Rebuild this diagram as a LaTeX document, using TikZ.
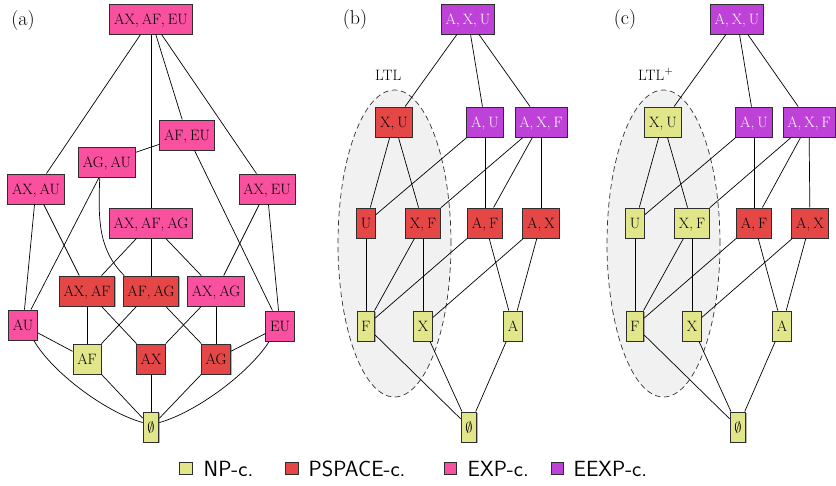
\documentclass[tikz,border=0pt]{standalone}
\usetikzlibrary{shadows}

\definecolor{npc}{HTML}{E1E68A}
\definecolor{psc}{HTML}{E54747}
\definecolor{expc}{HTML}{F9509F}
\definecolor{eexpc}{HTML}{BE42D8}
\definecolor{boxline}{HTML}{2E2E2E}
\definecolor{lassofill}{HTML}{F1F1F1}

\newcommand\nodefont{\fontsize{15}{18}\selectfont}
\newcommand\csep{,\kern3pt}

\tikzset{
  cbox/.style={draw=boxline, line width=0.9pt, minimum height=30pt,
    inner xsep=4.3pt, inner ysep=0pt, text height=10.3pt, text depth=0pt,
    font=\nodefont,
    drop shadow={shadow xshift=0.8pt, shadow yshift=-0.8pt, fill=black, opacity=0.3}},
  np/.style={cbox, fill=npc},
  ps/.style={cbox, fill=psc},
  ex/.style={cbox, fill=expc},
  ee/.style={cbox, fill=eexpc, text=white},
  edge/.style={line width=0.7pt, black},
  lasso/.style={draw=black!80, dashed, dash pattern=on 5.5pt off 3.5pt,
    line width=0.7pt, fill=lassofill},
  panel/.style={font=\fontsize{20}{24}\selectfont, inner sep=0pt},
  tag/.style={font=\fontsize{15}{18}\selectfont, inner sep=0pt, anchor=base west},
  keybox/.style={draw=boxline, line width=0.8pt, minimum size=12.5pt, inner sep=0pt},
  keytext/.style={font=\sffamily\fontsize{22}{26}\selectfont, inner sep=0pt, anchor=base west},
}

\begin{document}
\begin{tikzpicture}[x=1pt, y=-1pt]
\useasboundingbox (0,0) rectangle (836,485);

% ---------- shaded LTL regions ----------
\draw[lasso] (394.5,243.5) ellipse [x radius=56.5pt, y radius=153.5pt];
\draw[lasso] (663.5,243.5) ellipse [x radius=56.5pt, y radius=153.5pt];

% ---------- panel labels ----------
\node[panel] (lab-a) at (23,21) {(a)};
\node[panel] (lab-b) at (355,20) {(b)};
\node[panel] (lab-c) at (625,20) {(c)};
\node[tag] (ltl-b) at (375,80) {LTL};
\node[tag] (ltl-c) at (638,80) {LTL$^+$};

% ---------- lattice (a) ----------
\node[ex] (a-top)    at (151,19)  {AX\csep AF\csep EU};
\node[ex] (a-afeu)   at (187,135) {AF\csep EU};
\node[ex] (a-agau)   at (107,162) {AG\csep AU};
\node[ex] (a-axau)   at (36,189)  {AX\csep AU};
\node[ex] (a-axeu)   at (267,189) {AX\csep EU};
\node[ex] (a-axafag) at (151,223) {AX\csep AF\csep AG};
\node[ps] (a-axaf)   at (87,291)  {AX\csep AF};
\node[ps] (a-afag)   at (151,291) {AF\csep AG};
\node[ex] (a-axag)   at (216,291) {AX\csep AG};
\node[ex] (a-au)     at (23,325)  {AU};
\node[ex] (a-eu)     at (280,326) {EU};
\node[np] (a-af)     at (87,359)  {AF};
\node[ps] (a-ax)     at (151,359) {AX};
\node[ps] (a-ag)     at (216,359) {AG};
\node[np] (a-empty)  at (151,427) {$\emptyset$};

\foreach \u/\v in {top/axau, top/axafag, top/afeu, top/axeu,
                   afeu/agau, afeu/eu, agau/au,
                   axau/au, axau/axaf, axeu/axag, axeu/eu,
                   axafag/axaf, axafag/afag, axafag/axag,
                   axaf/af, axaf/ax, afag/af, afag/ag, axag/ax, axag/ag,
                   au/af, eu/ag, af/empty, ax/empty, ag/empty}
  \draw[edge] (a-\u) -- (a-\v);

\draw[edge] (a-agau.245) .. controls +(-2,45) and +(-25,-25) .. (a-afag.150);
\draw[edge] (a-au.-55) .. controls (52,372) and (105,412) .. (a-empty.152);
\draw[edge] (a-eu.235) .. controls (250,372) and (197,412) .. (a-empty.28);

% ---------- lattice (b) ----------
\node[ee] (b-top)   at (468,19)  {A\csep X\csep U};
\node[ps] (b-xu)    at (394,122) {X\csep U};
\node[ee] (b-au)    at (485,122) {A\csep U};
\node[ee] (b-axf)   at (541,122) {A\csep X\csep F};
\node[ps] (b-u)     at (366,223) {U};
\node[ps] (b-xf)    at (423,223) {X\csep F};
\node[ps] (b-af)    at (485,223) {A\csep F};
\node[ps] (b-ax)    at (541,223) {A\csep X};
\node[np] (b-f)     at (366,326) {F};
\node[np] (b-x)     at (423,326) {X};
\node[np] (b-a)     at (513,326) {A};
\node[np] (b-empty) at (469,427) {$\emptyset$};

% ---------- lattice (c) ----------
\begin{scope}[xshift=269pt]
\node[ee] (c-top)   at (468,19)  {A\csep X\csep U};
\node[np] (c-xu)    at (394,122) {X\csep U};
\node[ee] (c-au)    at (485,122) {A\csep U};
\node[ee] (c-axf)   at (540,122) {A\csep X\csep F};
\node[np] (c-u)     at (366,223) {U};
\node[np] (c-xf)    at (423,223) {X\csep F};
\node[ps] (c-af)    at (485,223) {A\csep F};
\node[ps] (c-ax)    at (541,223) {A\csep X};
\node[np] (c-f)     at (366,326) {F};
\node[np] (c-x)     at (423,326) {X};
\node[np] (c-a)     at (513,326) {A};
\node[np] (c-empty) at (469,427) {$\emptyset$};
\end{scope}

\foreach \p in {b,c}
  \foreach \u/\v in {top/xu, top/au, top/axf,
                     xu/u, xu/xf, au/u, au/af, axf/xf, axf/af, axf/ax,
                     u/f, xf/f, xf/x, af/f, af/a, ax/x, ax/a,
                     f/empty, x/empty, a/empty}
    \draw[edge] (\p-\u) -- (\p-\v);

% ---------- legend ----------
\node[keybox, fill=npc]   (k-np)   at (186,468.5) {};
\node[keybox, fill=psc]   (k-ps)   at (292,468.5) {};
\node[keybox, fill=expc]  (k-exp)  at (450.5,468.5) {};
\node[keybox, fill=eexpc] (k-eexp) at (557.5,468.5) {};
\node[keytext] (t-np)   at (203.5,476) {NP-c.};
\node[keytext] (t-ps)   at (308.5,476) {PSPACE-c.};
\node[keytext] (t-exp)  at (467.5,476) {EXP-c.};
\node[keytext] (t-eexp) at (573.5,476) {EEXP-c.};
\end{tikzpicture}
\end{document}
